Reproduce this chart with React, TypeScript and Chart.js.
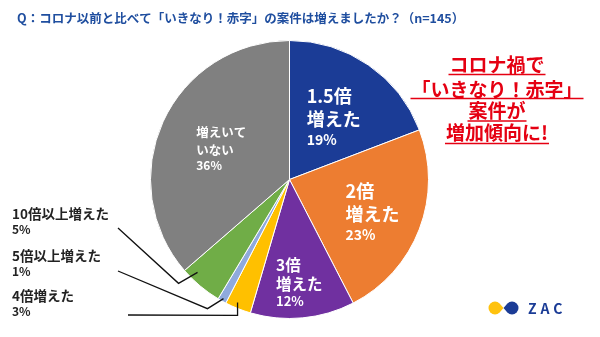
import React, { useEffect, useRef } from "react";
import { Chart, registerables } from "chart.js";
Chart.register(...registerables);

const categories = ["1.5倍増えた", "2倍増えた", "3倍増えた", "4倍増えた", "5倍以上増えた", "10倍以上増えた", "増えいていない"];
const values = [19, 23, 12, 3, 1, 5, 36];
const colors = ["#1B3C96", "#ED7D31", "#7030A0", "#FFC000", "#8FAADC", "#70AD47", "#808080"];
const insideLines: (string[] | null)[] = [["1.5倍", "増えた"], ["2倍", "増えた"], ["3倍", "増えた"], null, null, null, ["増えいて", "いない"]];
const outsideNames: (string | null)[] = [null, null, null, "4倍増えた", "5倍以上増えた", "10倍以上増えた", null];
const titleText = "Q：コロナ以前と比べて「いきなり！赤字」の案件は増えましたか？（n=145）";
const calloutLines = ["コロナ禍で", "「いきなり！赤字」", "案件が", "増加傾向に!"];

const FONT = '"Noto Sans CJK JP", "Noto Sans", sans-serif';

// label styling / placement config
const insideCfg: Record<number, { f: number; big: number; pct: number; offs: number[] }> = {
  0: { f: 0.56, big: 18, pct: 14, offs: [-19.5, 3.5, 24] },
  1: { f: 0.64, big: 18, pct: 14, offs: [-20, 2.5, 23] },
  2: { f: 0.74, big: 15.5, pct: 13, offs: [-16.5, 2.5, 19.5] },
  6: { f: 0.54, big: 12.5, pct: 12, offs: [-16, 1.5, 17.5] },
};
const outsideCfg: Record<number, { t: number; f: number; elbow: number[]; start: number[]; textY: number }> = {
  5: { t: 0.76, f: 0.94, elbow: [-19, 11], start: [118, 228], textY: 214 },
  4: { t: 0.47, f: 0.98, elbow: [-16, 10], start: [118, 271], textY: 256 },
  3: { t: 0.6, f: 0.96, elbow: [0, 13], start: [128, 315], textY: 296 },
};

const overlay = {
  id: "overlay",
  afterDraw(chart: any) {
    const ctx = chart.ctx as CanvasRenderingContext2D;
    const meta = chart.getDatasetMeta(0);
    ctx.save();

    // title
    ctx.fillStyle = "#1F4E9F";
    ctx.font = `bold 12.5px ${FONT}`;
    ctx.textBaseline = "middle";
    ctx.textAlign = "left";
    ctx.fillText(titleText, 17, 18);

    // callout
    ctx.fillStyle = "#E50012";
    ctx.strokeStyle = "#E50012";
    ctx.font = `bold 19px ${FONT}`;
    ctx.textAlign = "center";
    const cy = [65, 89.5, 110.5, 132.5];
    const uy = [74.5, 98.5, 121, 143.5];
    calloutLines.forEach((s, i) => {
      ctx.fillText(s, 497, cy[i]);
      const w = ctx.measureText(s).width + 2;
      ctx.lineWidth = 1.6;
      ctx.beginPath();
      ctx.moveTo(497 - w / 2, uy[i]);
      ctx.lineTo(497 + w / 2, uy[i]);
      ctx.stroke();
    });

    // inside labels
    meta.data.forEach((arc: any, i: number) => {
      const cfg = insideCfg[i];
      const lines = insideLines[i];
      if (!cfg || !lines) return;
      const p = arc.getProps(["x", "y", "startAngle", "endAngle", "outerRadius"], true);
      const mid = (p.startAngle + p.endAngle) / 2;
      const bx = p.x + Math.cos(mid) * p.outerRadius * cfg.f;
      const by = p.y + Math.sin(mid) * p.outerRadius * cfg.f;
      ctx.fillStyle = "#FFFFFF";
      ctx.textAlign = "left";
      ctx.font = `bold ${cfg.big}px ${FONT}`;
      const maxW = Math.max(...lines.map((l) => ctx.measureText(l).width));
      const left = bx - maxW / 2;
      lines.forEach((l, k) => ctx.fillText(l, left, by + cfg.offs[k]));
      ctx.font = `bold ${cfg.pct}px ${FONT}`;
      ctx.fillText(`${values[i]}%`, left, by + cfg.offs[2]);
    });

    // outside labels
    meta.data.forEach((arc: any, i: number) => {
      const cfg = outsideCfg[i];
      const name = outsideNames[i];
      if (!cfg || !name) return;
      const p = arc.getProps(["x", "y", "startAngle", "endAngle", "outerRadius"], true);
      const a = p.startAngle + (p.endAngle - p.startAngle) * cfg.t;
      const ex = p.x + Math.cos(a) * p.outerRadius * cfg.f;
      const ey = p.y + Math.sin(a) * p.outerRadius * cfg.f;
      ctx.strokeStyle = "#111";
      ctx.lineWidth = 1.3;
      ctx.beginPath();
      ctx.moveTo(cfg.start[0], cfg.start[1]);
      ctx.lineTo(ex + cfg.elbow[0], ey + cfg.elbow[1]);
      ctx.lineTo(ex, ey);
      ctx.stroke();
      ctx.fillStyle = "#222";
      ctx.textAlign = "left";
      ctx.font = `bold 13.5px ${FONT}`;
      ctx.fillText(name, 12, cfg.textY);
      ctx.font = `bold 12px ${FONT}`;
      ctx.fillText(`${values[i]}%`, 12, cfg.textY + 15.5);
    });

    // ZAC logo
    ctx.fillStyle = "#FFC20E";
    ctx.beginPath();
    ctx.arc(495, 308, 6.5, Math.PI / 4, -Math.PI / 4, false);
    ctx.lineTo(503.5, 308);
    ctx.closePath();
    ctx.fill();
    ctx.fillStyle = "#1B3C96";
    ctx.beginPath();
    ctx.arc(512, 308, 6.5, (Math.PI * 5) / 4, (Math.PI * 3) / 4, false);
    ctx.lineTo(503.5, 308);
    ctx.closePath();
    ctx.fill();
    ctx.font = `bold 14px ${FONT}`;
    (ctx as any).letterSpacing = "4px";
    ctx.textAlign = "left";
    ctx.fillText("ZAC", 528, 309);
    (ctx as any).letterSpacing = "0px";

    ctx.restore();
  },
};

export default function App() {
  const ref = useRef<HTMLCanvasElement>(null);
  useEffect(() => {
    document.body.style.margin = "0";
    const chart = new Chart(ref.current!, {
      type: "pie",
      data: {
        labels: categories,
        datasets: [
          {
            data: values,
            backgroundColor: colors,
            borderColor: "#FFFFFF",
            borderWidth: 1,
          },
        ],
      },
      options: {
        animation: false,
        responsive: true,
        maintainAspectRatio: false,
        layout: { padding: { left: 150, right: 171, top: 40, bottom: 18 } },
        plugins: { legend: { display: false }, tooltip: { enabled: false }, title: { display: false } },
      },
      plugins: [overlay],
    });
    return () => chart.destroy();
  }, []);
  return (
    <div style={{ position: "absolute", left: 0, top: 0, width: 600, height: 337, background: "#fff" }}>
      <canvas ref={ref} />
    </div>
  );
}
